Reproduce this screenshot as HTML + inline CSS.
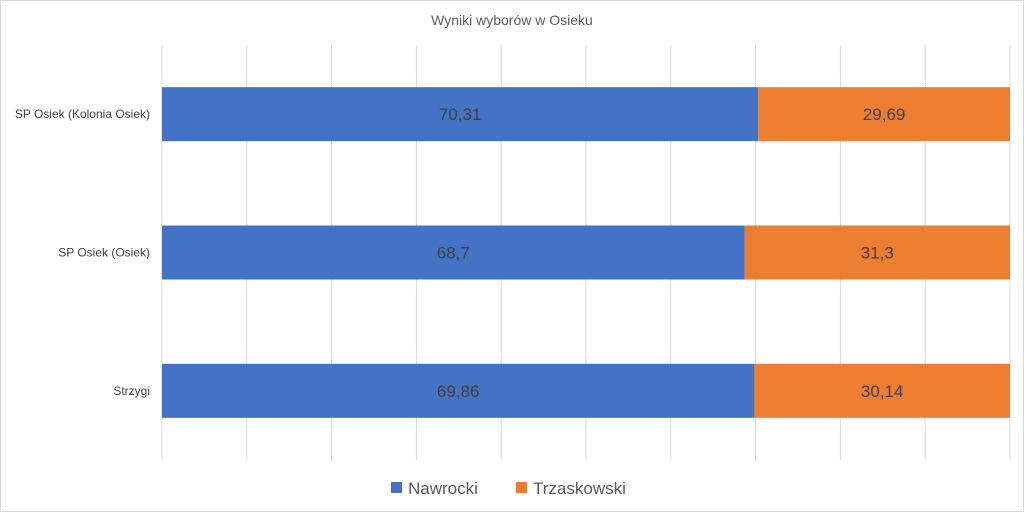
<!DOCTYPE html>
<html><head><meta charset="utf-8"><style>
body{margin:0;background:#fff;}
svg{display:block;font-family:"Liberation Sans",sans-serif;}
</style></head><body>
<svg id="chart" width="1024" height="512">
<rect x="0.5" y="0.5" width="1023" height="511" fill="#fff" stroke="#d9d9d9"/>
<text x="512" y="25" text-anchor="middle" font-size="14" fill="#595959">Wyniki wyborów w Osieku</text>
<g id="grid"></g>
<g id="bars"></g>
<g id="labels"></g>
<g>
<rect x="391" y="482" width="11" height="11" fill="#4472c4"/>
<text x="408" y="494" font-size="17" fill="#595959">Nawrocki</text>
<rect x="516" y="482" width="11" height="11" fill="#ed7d31"/>
<text x="533" y="494" font-size="17" fill="#595959">Trzaskowski</text>
</g>
</svg>
<script>
const categories=["SP Osiek (Kolonia Osiek)","SP Osiek (Osiek)","Strzygi"];
const nawrocki=[70.31,68.7,69.86];
const trzaskowski=[29.69,31.3,30.14];
const nawrockiLabels=["70,31","68,7","69,86"];
const trzaskowskiLabels=["29,69","31,3","30,14"];
const ticks=[0,10,20,30,40,50,60,70,80,90,100];
const NS="http://www.w3.org/2000/svg";
const x0=162,x1=1010,yTop=45,yBot=460;
const xs=v=>x0+(x1-x0)*v/100;
const band=(yBot-yTop)/categories.length;
const yc=i=>yTop+band*(i+0.5);
const bh=54;
function mk(t,a,p){const e=document.createElementNS(NS,t);for(const k in a)e.setAttribute(k,a[k]);p.appendChild(e);return e;}
const grid=document.getElementById('grid'),bars=document.getElementById('bars'),labels=document.getElementById('labels');
ticks.forEach(t=>{
 const l=mk('line',{x1:xs(t),x2:xs(t),y1:yTop,y2:yBot,stroke:'#d9d9d9','stroke-width':1},grid);
 
 
});
categories.forEach((c,i)=>{
 const y=yc(i)-bh/2;
 const a=mk('rect',{x:xs(0),y:y,width:xs(nawrocki[i])-xs(0),height:bh,fill:'#4472c4'},bars);
 
 
 const b=mk('rect',{x:xs(nawrocki[i]),y:y,width:xs(nawrocki[i]+trzaskowski[i])-xs(nawrocki[i]),height:bh,fill:'#ed7d31'},bars);
 
 
 const ta=mk('text',{x:(xs(0)+xs(nawrocki[i]))/2,y:yc(i)+6,'text-anchor':'middle','font-size':17,fill:'#404040'},labels);
 ta.textContent=nawrockiLabels[i];
 
 
 const tb=mk('text',{x:(xs(nawrocki[i])+xs(nawrocki[i]+trzaskowski[i]))/2,y:yc(i)+6,'text-anchor':'middle','font-size':17,fill:'#404040'},labels);
 tb.textContent=trzaskowskiLabels[i];
 
 
 const cl=mk('text',{x:150,y:yc(i)+4,'text-anchor':'end','font-size':12,fill:'#404040'},labels);
 cl.textContent=c;
 
 
});
</script>
</body></html>
